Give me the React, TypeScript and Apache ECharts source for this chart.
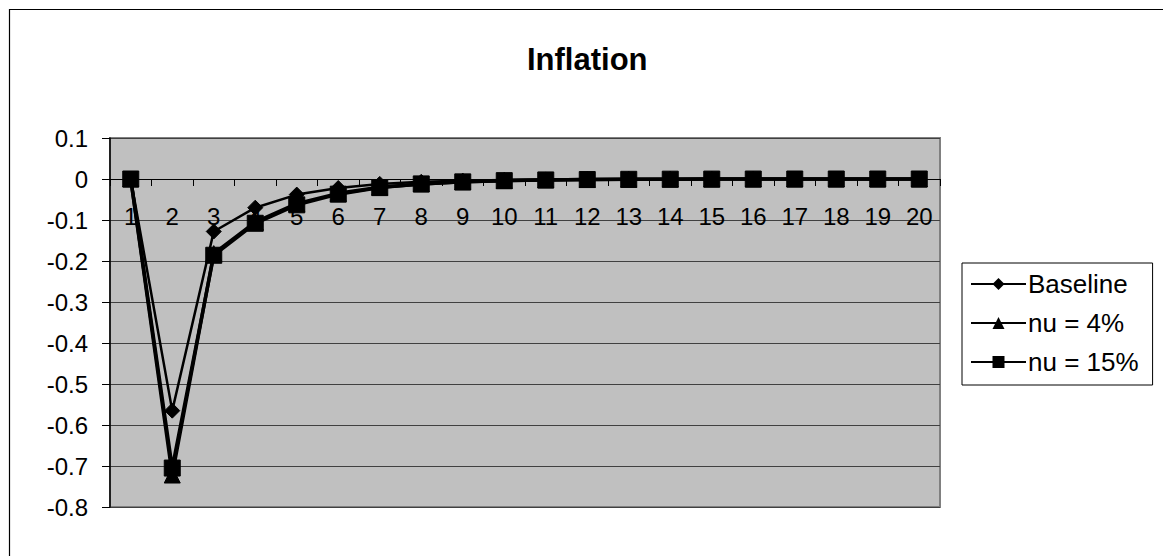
import React, { useEffect, useRef } from "react";
import * as echarts from "echarts";

const categories = ["1","2","3","4","5","6","7","8","9","10","11","12","13","14","15","16","17","18","19","20"];
const baseline = [0, -0.565, -0.128, -0.070, -0.038, -0.022, -0.012, -0.007, -0.004, -0.0023, -0.0013, -0.0007, -0.0004, -0.0002, -0.0001, 0, 0, 0, 0, 0];
const nu4 = [0, -0.722, -0.182, -0.105, -0.060, -0.035, -0.020, -0.012, -0.007, -0.004, -0.0023, -0.0013, -0.0008, -0.0004, -0.0002, -0.0001, 0, 0, 0, 0];
const nu15 = [0, -0.705, -0.186, -0.108, -0.063, -0.037, -0.021, -0.012, -0.007, -0.004, -0.0023, -0.0013, -0.0008, -0.0004, -0.0002, -0.0001, 0, 0, 0, 0];
const seriesNames = ["Baseline", "nu = 4%", "nu = 15%"];

const FONT = "Liberation Sans, Arial, sans-serif";

export default function App() {
  const ref = useRef<HTMLDivElement>(null);
  useEffect(() => {
    if (!ref.current) return;
    const chart = echarts.init(ref.current, null, { renderer: "svg" });
    const mk = (name: string, data: number[], symbol: string, size: number, w: number, z: number) => ({
      name,
      type: "line",
      data,
      symbol,
      symbolSize: size,
      showAllSymbol: true,
      z,
      lineStyle: { color: "#000", width: w },
      itemStyle: { color: "#000", borderColor: "#000" },
      emphasis: { disabled: true },
    });
    const gridTop = 138;
    const gridBottomPx = 507;
    const zeroPx = 179;
    chart.setOption({
      animation: false,
      backgroundColor: "#fff",
      title: {
        text: "Inflation",
        left: 527,
        top: 44,
        padding: 0,
        textStyle: { fontFamily: FONT, fontSize: 31, fontWeight: "bold", color: "#000" },
      },
      legend: {
        orient: "vertical",
        left: 962,
        top: 263,
        padding: [8, 14, 10, 8],
        itemGap: 13,
        itemWidth: 55,
        itemHeight: 15,
        backgroundColor: "#fff",
        borderColor: "#000",
        borderWidth: 1,
        borderRadius: 0,
        data: seriesNames,
        textStyle: { fontFamily: FONT, fontSize: 26, color: "#000", padding: [0, 0, 0, -3] },
      },
      grid: {
        left: 110,
        right: 223,
        top: gridTop,
        bottom: 556 - gridBottomPx,
        show: true,
        backgroundColor: "#C0C0C0",
        borderColor: "#808080",
        borderWidth: 2,
      },
      xAxis: {
        type: "category",
        data: categories,
        boundaryGap: true,
        offset: -(gridBottomPx - zeroPx),
        axisLine: { onZero: false, lineStyle: { color: "#000", width: 1.2 } },
        axisTick: { show: true, length: 7, lineStyle: { color: "#000" } },
        axisLabel: { fontFamily: FONT, fontSize: 24, color: "#000", margin: 25, interval: 0 },
        splitLine: { show: false },
      },
      yAxis: {
        type: "value",
        min: -0.8,
        max: 0.1,
        interval: 0.1,
        axisLine: { show: true, lineStyle: { color: "#000", width: 1.5 } },
        axisTick: { show: true, length: 8, lineStyle: { color: "#000" } },
        axisLabel: {
          fontFamily: FONT,
          fontSize: 24,
          color: "#000",
          margin: 22,
          formatter: (v: number) => String(parseFloat(v.toFixed(1))),
        },
        splitLine: { show: true, lineStyle: { color: "#404040", width: 1 } },
      },
      graphic: [
        {
          type: "rect",
          shape: { x: 9.5, y: 9.5, width: 1300, height: 700 },
          style: { fill: "none", stroke: "#000", lineWidth: 1.2 },
          silent: true,
          z: 100,
        },
      ],
      series: [
        mk(seriesNames[0], baseline, "diamond", 15, 2.5, 5),
        mk(seriesNames[1], nu4, "triangle", 16, 3.5, 4),
        mk(seriesNames[2], nu15, "rect", 16, 3.5, 6),
      ],
    });
    return () => chart.dispose();
  }, []);
  return <div ref={ref} style={{ position: "absolute", left: 0, top: 0, width: 1163, height: 556 }} />;
}
